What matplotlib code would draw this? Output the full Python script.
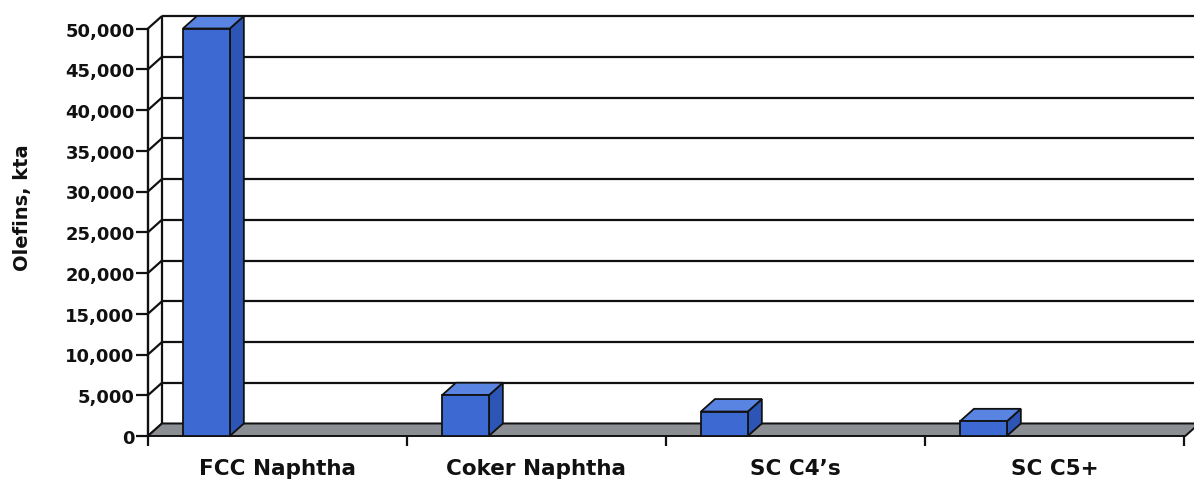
import matplotlib.pyplot as plt
from matplotlib.patches import Polygon
from matplotlib.ticker import FixedLocator, NullFormatter

categories = ['FCC Naphtha', 'Coker Naphtha', 'SC C4\u2019s', 'SC C5+']
olefins_kta = [50000, 5000, 3000, 1800]
y_ticks = list(range(0, 50001, 5000))

plt.rcParams['font.family'] = 'DejaVu Sans'
plt.rcParams['font.weight'] = 'bold'

fig = plt.figure(figsize=(11.94, 4.81), dpi=100)
ax = fig.add_axes([148 / 1194, 44 / 481, 1036 / 1194, 407.5 / 481])
n = len(categories)
ax.set_xlim(0, n)
ax.set_ylim(0, 50000)

# depth of the fake 3d box, pixels -> data units
dx = 14 / 1036 * n
dy = 12.5 / 407.5 * 50000

line_kw = dict(color='#111111', lw=1.6, clip_on=False, solid_capstyle='butt')

# back wall gridlines + left wall slants
for v in y_ticks:
    ax.plot([dx, n + dx + 0.1], [v + dy, v + dy], zorder=1, **line_kw)
    ax.plot([0, dx], [v, v + dy], zorder=1, **line_kw)
ax.plot([dx, dx], [dy, 50000 + dy], zorder=1, **line_kw)

# floor
floor = Polygon([(0, 0), (n + 0.005, 0), (n + 0.005 + dx, dy), (dx, dy)],
                closed=True, facecolor='#8b8f94', edgecolor='#111111',
                lw=1.4, zorder=2, clip_on=False)
ax.add_patch(floor)

# bars: front face, top face, right side face
off = 0.135
w = 0.181
for i, v in enumerate(olefins_kta):
    x0 = i + off
    x1 = x0 + w
    side = Polygon([(x1, 0), (x1 + dx, dy), (x1 + dx, v + dy), (x1, v)],
                   facecolor='#2d55b5', edgecolor='#111111', lw=1.3,
                   zorder=3, clip_on=False)
    top = Polygon([(x0, v), (x1, v), (x1 + dx, v + dy), (x0 + dx, v + dy)],
                  facecolor='#5a84e2', edgecolor='#111111', lw=1.3,
                  zorder=3, clip_on=False)
    front = Polygon([(x0, 0), (x1, 0), (x1, v), (x0, v)],
                    facecolor='#3c69d2', edgecolor='#111111', lw=1.3,
                    zorder=4, clip_on=False)
    for p in (side, top, front):
        ax.add_patch(p)

for s in ['top', 'right', 'bottom']:
    ax.spines[s].set_visible(False)
ax.spines['left'].set_color('#111111')
ax.spines['left'].set_linewidth(1.7)
ax.spines['left'].set_zorder(5)

ax.set_yticks(y_ticks)
ax.set_yticklabels([f'{v:,}' for v in y_ticks])
ax.tick_params(axis='y', direction='out', length=9, width=1.6,
               pad=0.5, labelsize=13, colors='#111111')

# category boundaries carry the tick marks, centers carry the labels
ax.xaxis.set_major_locator(FixedLocator(list(range(n + 1))))
ax.xaxis.set_major_formatter(NullFormatter())
ax.xaxis.set_minor_locator(FixedLocator([i + 0.5 for i in range(n)]))
ax.set_xticklabels(categories, minor=True)
ax.tick_params(axis='x', which='major', direction='out', length=7,
               width=1.6, colors='#111111')
ax.tick_params(axis='x', which='minor', length=0, pad=16, labelsize=15.5,
               labelcolor='#111111')

ax.set_ylabel('Olefins, kta', fontsize=14, fontweight='bold', color='#111111')
ax.yaxis.set_label_coords(-0.112, 0.562)

ax.set_facecolor('none')
fig.set_facecolor('white')
fig.savefig('out.png', dpi=100)
